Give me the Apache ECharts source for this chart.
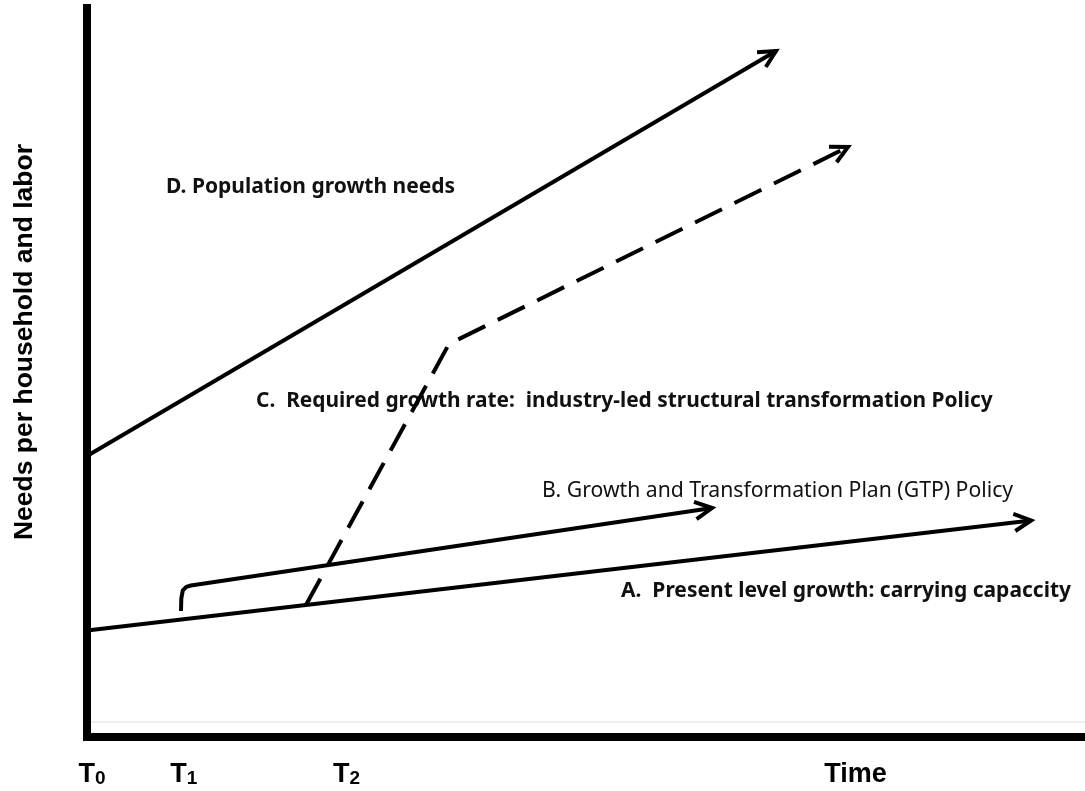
<!DOCTYPE html>
<html>
<head>
<meta charset="utf-8">
<script src="https://cdn.jsdelivr.net/npm/echarts@6/dist/echarts.min.js"></script>
<style>
html,body{margin:0;padding:0;background:#fff;}
#chart{width:1085px;height:791px;}
</style>
</head>
<body>
<div id="chart"></div>
<script>
// ---- data (x: time, y: needs, both in 0..100 axis units) ----
const lineA = [[0, 14.6], [94.6, 29.7]];                                  // Present level growth
const lineB = [[9.42, 17.28], [9.45, 19.0], [9.6, 20.1], [9.95, 20.6], [10.4, 20.78], [62.63, 31.41]]; // GTP policy
const lineC = [[21.94, 18.11], [36.27, 53.91], [76.25, 80.93]];          // Required growth (dashed)
const lineD = [[0, 38.55], [69.04, 94.1]];                                // Population growth needs

const tickValues = [0.5, 9.7, 26.0, 77.0];
const tickLabels = ['T0', 'T1', 'T2', 'Time'];

const lineLabels = [
  'D. Population growth needs',
  'C.  Required growth rate:  industry-led structural transformation Policy',
  'B. Growth and Transformation Plan (GTP) Policy',
  'A.  Present level growth: carrying capaccity'
];
const yTitle = 'Needs per household and labor';

// ---- chart ----
const chart = echarts.init(document.getElementById('chart'), null, {renderer: 'canvas'});

const arrowData = [lineA, lineB, lineC, lineD].map(l => {
  const p = l[l.length - 2], q = l[l.length - 1];
  return [p[0], p[1], q[0], q[1]];
});

function labelFmt(v) {
  const i = tickValues.indexOf(v);
  if (i < 0) return '';
  const s = tickLabels[i];
  if (/^T\d$/.test(s)) return '{t|T}{s|' + s.slice(1) + '}';
  return '{t|' + s + '}';
}

const axisFont = 'Liberation Sans';
const noteFont = '"Noto Sans"';

const option = {
  animation: false,
  backgroundColor: '#fff',
  grid: {left: 87, right: 0, top: 8, bottom: 54, containLabel: false},
  xAxis: {
    type: 'value', min: 0, max: 100,
    splitLine: {show: false},
    axisTick: {show: false},
    axisLine: {show: true, lineStyle: {color: '#000', width: 8}},
    axisLabel: {
      show: true,
      customValues: tickValues,
      formatter: labelFmt,
      margin: 19,
      rich: {
        t: {fontFamily: axisFont, fontWeight: 'bold', fontSize: 27, color: '#000', lineHeight: 32, verticalAlign: 'bottom'},
        s: {fontFamily: axisFont, fontWeight: 'bold', fontSize: 19, color: '#000', lineHeight: 20, verticalAlign: 'bottom'}
      }
    }
  },
  yAxis: {
    type: 'value', min: 0, max: 100,
    splitLine: {show: false},
    axisTick: {show: false},
    axisLabel: {show: false},
    axisLine: {show: true, lineStyle: {color: '#000', width: 8, cap: 'square'}}
  },
  series: [
    {type: 'line', data: lineA, symbol: 'none', lineStyle: {color: '#000', width: 4}},
    {type: 'line', data: lineB, symbol: 'none', lineStyle: {color: '#000', width: 4, join: 'round'}},
    {type: 'line', data: lineC, symbol: 'none', lineStyle: {color: '#000', width: 4, type: [30, 14]}},
    {type: 'line', data: lineD, symbol: 'none', lineStyle: {color: '#000', width: 4}},
    {
      type: 'custom', clip: false,
      data: arrowData,
      encode: {x: [0, 2], y: [1, 3]},
      renderItem: function (params, api) {
        const p = api.coord([api.value(0), api.value(1)]);
        const q = api.coord([api.value(2), api.value(3)]);
        const ang = Math.atan2(p[1] - q[1], p[0] - q[0]);
        const len = 19, spread = 27 * Math.PI / 180;
        const a1 = [q[0] + len * Math.cos(ang + spread), q[1] + len * Math.sin(ang + spread)];
        const a2 = [q[0] + len * Math.cos(ang - spread), q[1] + len * Math.sin(ang - spread)];
        return {
          type: 'polyline',
          shape: {points: [a1, q, a2]},
          style: {stroke: '#000', lineWidth: 4, fill: null, lineJoin: 'miter', lineCap: 'butt'}
        };
      }
    }
  ],
  graphic: [
    {type: 'line', shape: {x1: 91, y1: 722, x2: 1085, y2: 722}, style: {stroke: '#efefef', lineWidth: 2}, z: 0},
    {type: 'text', x: 25, y: 342, rotation: Math.PI / 2,
      style: {text: yTitle, font: 'bold 26.5px "' + axisFont + '"', fill: '#000', align: 'center', verticalAlign: 'middle'}},
    {type: 'text', x: 166, y: 187,
      style: {text: lineLabels[0], font: 'bold 21px ' + noteFont, fill: '#111', align: 'left', verticalAlign: 'middle'}},
    {type: 'text', x: 256, y: 401,
      style: {text: lineLabels[1], font: 'bold 20.9px ' + noteFont, fill: '#111', align: 'left', verticalAlign: 'middle'}},
    {type: 'text', x: 542, y: 491,
      style: {text: lineLabels[2], font: '21.2px ' + noteFont, fill: '#111', align: 'left', verticalAlign: 'middle'}},
    {type: 'text', x: 621, y: 591,
      style: {text: lineLabels[3], font: 'bold 21px ' + noteFont, fill: '#111', align: 'left', verticalAlign: 'middle'}}
  ]
};
chart.setOption(option);
</script>
</body>
</html>
